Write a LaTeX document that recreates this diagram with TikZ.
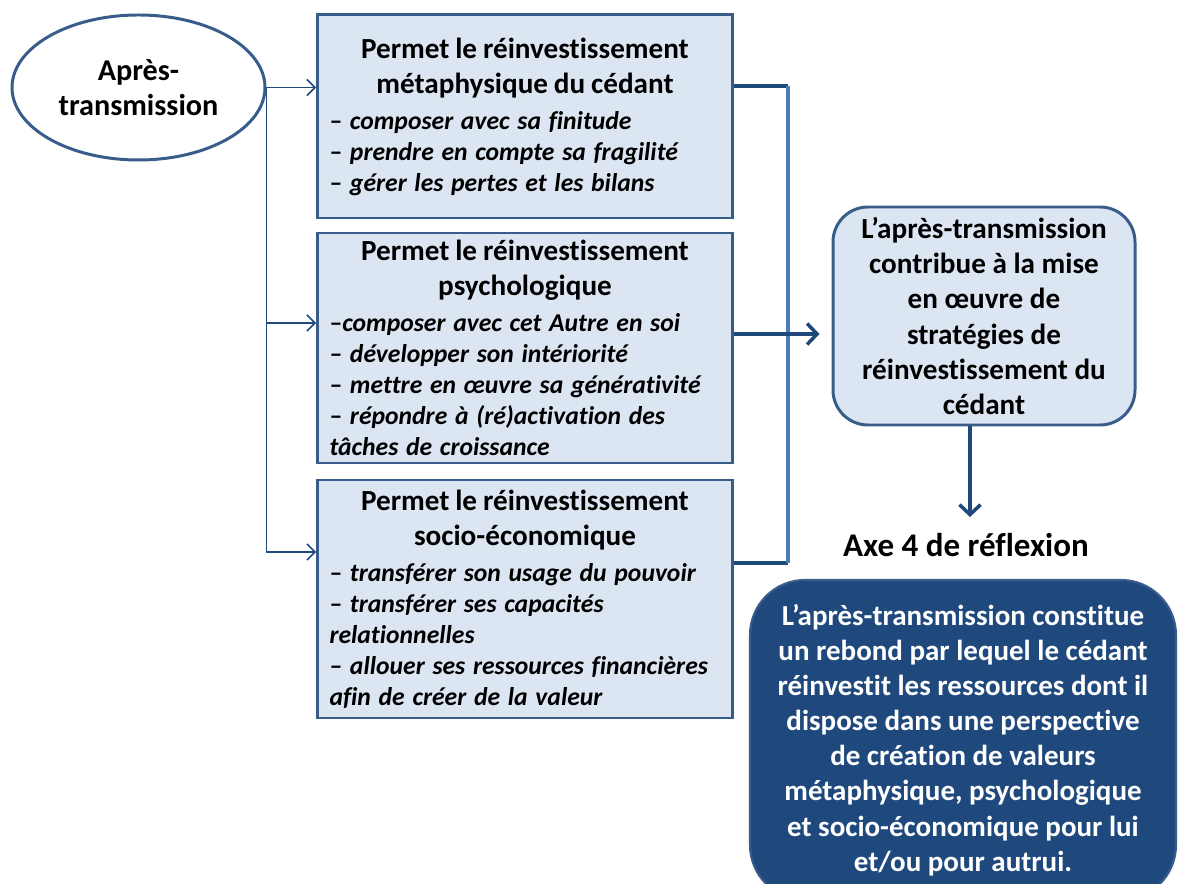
\documentclass[tikz,border=0pt]{standalone}
\usepackage{fontspec}
\setmainfont{Carlito}[Ligatures=NoCommon]
\usetikzlibrary{positioning, arrows.meta, calc, shapes.geometric}
\definecolor{boxfill}{RGB}{220, 230, 242}
\definecolor{boxline}{RGB}{56, 93, 138}
\definecolor{linkblue}{RGB}{31, 73, 125}
\definecolor{spineblue}{RGB}{74, 126, 187}
\definecolor{deep}{RGB}{31, 73, 125}

\newcommand{\boxhead}[1]{{\centering\fontsize{16.6}{20}\selectfont #1\par}\vspace{0.1cm}}
\newcommand{\boxitems}[1]{{\raggedright\fontsize{14.6}{17.6}\selectfont\itshape
    \spaceskip=0.3em plus 0.1em #1\par}}
\newcommand{\dash}{{\upshape\textendash}}

\begin{document}
\begin{tikzpicture}[
    font=\bfseries,
    startnode/.style={
        ellipse, draw=boxline, fill=white, line width=1.7pt,
        minimum width=5.06cm, minimum height=2.9cm,
        align=center, font=\fontsize{17.2}{20}\selectfont\bfseries,
    },
    stagebox/.style={
        rectangle, draw=boxline, fill=boxfill, line width=1.7pt,
        minimum width=8.3cm, text width=7.82cm,
        inner xsep=0.24cm, inner ysep=0.1cm,
    },
    roundbox/.style={
        rectangle, rounded corners=0.7cm,
        draw=boxline, fill=boxfill, line width=1.7pt,
        minimum width=6.04cm, minimum height=4.36cm,
        align=center, font=\fontsize{16.6}{20}\selectfont\bfseries,
    },
    deepbox/.style={
        rectangle, rounded corners=1.1cm,
        draw=boxline, fill=deep, line width=1.2pt, text=white,
        minimum width=8.52cm, minimum height=6.4cm,
        align=center, font=\fontsize{16.5}{20}\selectfont\bfseries,
    },
    link/.style={
        -{Straight Barb[length=0.16cm, width=0.32cm]},
        line width=0.85pt, draw=linkblue,
    },
    flow/.style={
        -{Straight Barb[length=0.2cm, width=0.42cm, line width=2pt]},
        line width=2.3pt, draw=linkblue,
    },
    tie/.style={line width=2.3pt, draw=linkblue},
    spine/.style={line width=2.3pt, draw=spineblue},
]
\useasboundingbox (0, 0) rectangle (23.58, -17.68);

% =============== Start ===============
\node[startnode] (start) at (2.77, -1.75) {Après-\\transmission};

% =============== Three kinds of reinvestment ===============
\node[stagebox, minimum height=4.06cm] (meta) at (10.5, -2.33) {%
    \boxhead{Permet le réinvestissement\\métaphysique du cédant}
    \boxitems{\dash\ composer avec sa finitude\\
        \dash\ prendre en compte sa fragilité\\
        \dash\ gérer les pertes et les bilans}};

\node[stagebox, minimum height=4.6cm] (psy) at (10.5, -6.96) {%
    \boxhead{Permet le réinvestissement\\psychologique}
    \boxitems{\dash composer avec cet Autre en soi\\
        \dash\ développer son intériorité\\
        \dash\ mettre en œuvre sa générativité\\
        \dash\ répondre à (ré)activation des\\
        tâches de croissance}};

\node[stagebox, minimum height=4.76cm] (socio) at (10.5, -11.98) {%
    \boxhead{Permet le réinvestissement\\socio-économique}
    \boxitems{\dash\ transférer son usage du pouvoir\\
        \dash\ transférer ses capacités\\
        relationnelles\\
        \dash\ allouer ses ressources financières\\
        afin de créer de la valeur}};

% =============== Outcome ===============
\node[roundbox] (contrib) at (19.68, -6.32)
    {L’après-transmission\\contribue à la mise\\en œuvre de\\stratégies de\\réinvestissement du\\cédant};
\node[font=\fontsize{18.8}{22}\selectfont\bfseries] (axe) at (19.32, -10.9)
    {Axe 4 de réflexion};
\node[deepbox] (rebond) at (19.26, -14.8)
    {L’après-transmission constitue\\un rebond par lequel le cédant\\réinvestit les ressources dont il\\dispose dans une perspective\\de création de valeurs\\métaphysique, psychologique\\et socio-économique pour lui\\et/ou pour autrui.};

% =============== Links from the start ===============
\coordinate (in1) at ([yshift=0.6cm]meta.west);
\coordinate (in2) at ([yshift=0.5cm]psy.west);
\coordinate (in3) at ([yshift=0.94cm]socio.west);
\draw[link] (start.east) -- (start.east -| in1);
\draw[link] (start.east) |- (in3);
\draw[link] (start.east |- in2) -- (in2);

% =============== Bracket and arrows on the right ===============
\coordinate (tiehi) at ($([yshift=0.61cm]meta.east)+(1.08, 0)$);
\coordinate (tielo) at ($([yshift=0.72cm]socio.east)+(1.08, 0)$);
\draw[tie] ([yshift=0.61cm]meta.east) -- (tiehi);
\draw[tie] ([yshift=0.72cm]socio.east) -- (tielo);
\draw[spine] (tiehi) -- (tielo);
\draw[flow, shorten >=0.24cm] ([yshift=0.28cm]psy.east) -- ([yshift=0.28cm]psy.east -| contrib.west);
\draw[flow, shorten >=0.2cm] ([xshift=-0.28cm]contrib.south) -- ([xshift=-0.28cm]contrib.south |- axe.north);

\end{tikzpicture}
\end{document}
